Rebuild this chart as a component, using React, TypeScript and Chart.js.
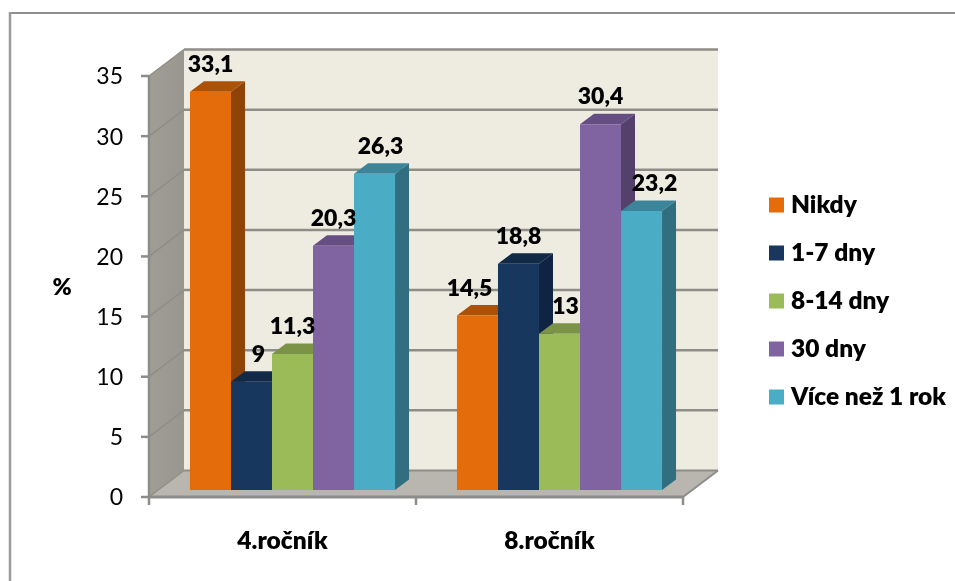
import { useEffect, useRef } from "react";
import { Chart, registerables } from "chart.js";

Chart.register(...registerables);

// Survey results, in percent
const categories = ["4.ročník", "8.ročník"];
const nikdy = [33.1, 14.5];
const dny1to7 = [9, 18.8];
const dny8to14 = [11.3, 13];
const dny30 = [20.3, 30.4];
const viceNez1Rok = [26.3, 23.2];

const seriesNames = ["Nikdy", "1-7 dny", "8-14 dny", "30 dny", "Více než 1 rok"];
const seriesValues = [nikdy, dny1to7, dny8to14, dny30, viceNez1Rok];

// Face colours per series: front, side, top
const frontColors = ["#E46C0A", "#17375E", "#9BBB59", "#8064A2", "#4BACC6"];
const sideColors = ["#8F4307", "#0F2442", "#65793A", "#53416C", "#316F80"];
const topColors = ["#AB5108", "#122A48", "#7A9346", "#654F82", "#3B8499"];

// Horizontal nudges of the value labels, by series and category
const labelNudgeX = [
  [0, -8],
  [7, 0],
  [0, 6],
  [0, 0],
  [6, 13],
];

const FONT = "Lato";
const LINE = "#8C8C8A";
const GRID = "#8E8D88";

// Offsets of the 3D box relative to the plane the bars stand in
const FRONT = { x: -10, y: 7 };
const BACK = { x: 25, y: -19.5 };
const BAR_DEPTH = { x: 14, y: -10.5 };

function poly(ctx: CanvasRenderingContext2D, pts: number[][], fill: any) {
  ctx.beginPath();
  pts.forEach(([x, y], i) => (i ? ctx.lineTo(x, y) : ctx.moveTo(x, y)));
  ctx.closePath();
  ctx.fillStyle = fill;
  ctx.fill();
}

function line(ctx: CanvasRenderingContext2D, x1: number, y1: number, x2: number, y2: number, color: string, width: number) {
  ctx.beginPath();
  ctx.moveTo(x1, y1);
  ctx.lineTo(x2, y2);
  ctx.strokeStyle = color;
  ctx.lineWidth = width;
  ctx.stroke();
}

// Reserves the band right of the plot for the legend and places it there
const legendPlacement = {
  id: "legendPlacement",
  beforeInit(chart: any) {
    const legend = chart.legend;
    const fit = legend.fit;
    legend.fit = function () {
      fit.call(this);
      this.width = 262;
    };
  },
  afterLayout(chart: any) {
    const l = chart.legend;
    l.left = 750.75;
    l.right = 955;
    l.top = 169.25;
    l.bottom = 460;
  },
};

// Walls, floor, ticks and the depth faces of the bars
const box3d = {
  id: "box3d",
  beforeDraw(chart: any) {
    const { ctx, chartArea: a, scales } = chart;
    const yScale = scales.y;
    const xScale = scales.x;
    ctx.save();

    const fl = a.left + FRONT.x;
    const fr = a.right + FRONT.x;
    const ft = a.top + FRONT.y;
    const fb = a.bottom + FRONT.y;
    const bl = a.left + BACK.x;
    const br = a.right + BACK.x;
    const bt = a.top + BACK.y;
    const bb = a.bottom + BACK.y;

    // chart frame
    line(ctx, 10, 13, 955, 13, "#8F8F8F", 2);
    line(ctx, 10, 12, 10, 581, "#9A9A9A", 2.5);

    // back wall
    poly(ctx, [[bl, bt], [br, bt], [br, bb], [bl, bb]], "#EEECE1");

    // left wall
    const wall = ctx.createLinearGradient(fl, 0, bl, 0);
    wall.addColorStop(0, "#9F9D94");
    wall.addColorStop(1, "#98968E");
    poly(ctx, [[fl, ft], [bl, bt], [bl, bb], [fl, fb]], wall);

    // floor
    poly(ctx, [[fl, fb], [bl, bb], [br, bb], [fr, fb]], "#B8B6AE");

    // gridlines across both walls, with their tick marks
    yScale.ticks.forEach((t: any) => {
      const p = yScale.getPixelForValue(t.value);
      line(ctx, bl, p + BACK.y, br, p + BACK.y, GRID, t.value === 0 ? 2 : 2.5);
      line(ctx, fl, p + FRONT.y, bl, p + BACK.y, GRID, 1.5);
      line(ctx, fl - 8, p + FRONT.y, fl, p + FRONT.y, LINE, 2.5);
    });

    // box edges
    line(ctx, fl, ft, fl, fb + 8, LINE, 2.5);
    line(ctx, fl, fb, fr, fb, LINE, 3);
    line(ctx, fr, fb, br, bb, LINE, 2);
    const mid = (xScale.getPixelForTick(0) + xScale.getPixelForTick(1)) / 2 + FRONT.x;
    line(ctx, mid, fb, mid, fb + 8, LINE, 2.5);
    line(ctx, fr, fb, fr, fb + 8, LINE, 2.5);
    ctx.restore();
  },
  beforeDatasetsDraw(chart: any) {
    const { ctx } = chart;
    ctx.save();
    // bar sides and tops; each front face is drawn afterwards by the library
    chart.data.datasets.forEach((_: any, i: number) => {
      chart.getDatasetMeta(i).data.forEach((bar: any) => {
        const { x, y, base, width } = bar.getProps(["x", "y", "base", "width"], true);
        const x0 = x - width / 2;
        const x1 = x + width / 2;
        const dx = BAR_DEPTH.x;
        const dy = BAR_DEPTH.y;
        poly(ctx, [[x1, y], [x1 + dx, y + dy], [x1 + dx, base + dy], [x1, base]], sideColors[i]);
        poly(ctx, [[x0, y], [x0 + dx, y + dy], [x1 + dx, y + dy], [x1, y]], topColors[i]);
      });
    });
    ctx.restore();
  },
  afterDatasetsDraw(chart: any) {
    const { ctx } = chart;
    ctx.save();
    ctx.textAlign = "center";
    ctx.textBaseline = "middle";
    ctx.fillStyle = "#000";
    ctx.font = `800 23px ${FONT}`;

    // value labels above the bars
    chart.data.datasets.forEach((ds: any, i: number) => {
      chart.getDatasetMeta(i).data.forEach((bar: any, j: number) => {
        const { x, y } = bar.getProps(["x", "y"], true);
        const text = String(ds.data[j]).replace(".", ",");
        ctx.fillText(text, x + labelNudgeX[i][j], y - 27.5);
      });
    });

    // unit label beside the value axis
    ctx.fillText("%", 62, 288);
    ctx.restore();
  },
};

export default function App() {
  const ref = useRef<HTMLCanvasElement | null>(null);

  useEffect(() => {
    document.body.style.margin = "0";
    document.body.style.background = "#fff";
    const chart = new Chart(ref.current as HTMLCanvasElement, {
      type: "bar",
      data: {
        labels: categories,
        datasets: seriesNames.map((label, i) => ({
          label,
          data: seriesValues[i],
          backgroundColor: frontColors[i],
          borderWidth: 0,
        })),
      },
      plugins: [legendPlacement, box3d],
      options: {
        responsive: false,
        animation: false,
        layout: { padding: { top: 69, left: 0, right: 0, bottom: 0 } },
        datasets: { bar: { categoryPercentage: 0.768, barPercentage: 1 } },
        scales: {
          x: {
            grid: { display: false, drawTicks: false },
            border: { display: false },
            ticks: {
              color: "#000",
              font: { family: FONT, size: 24.5, weight: "800" },
              padding: 36,
              labelOffset: FRONT.x,
              maxRotation: 0,
            },
            afterFit(s: any) {
              s.height = 91;
            },
          },
          y: {
            min: 0,
            max: 35,
            grid: { display: false, drawTicks: false },
            border: { display: false },
            ticks: {
              stepSize: 5,
              color: "#000",
              font: { family: FONT, size: 23 },
              padding: 36,
              labelOffset: FRONT.y + 1,
            },
            afterFit(s: any) {
              s.width = 159;
            },
          },
        },
        plugins: {
          tooltip: { enabled: false },
          legend: {
            position: "right",
            align: "start",
            labels: {
              color: "#000",
              font: { family: FONT, size: 24.5, weight: "800" },
              boxWidth: 4.5,
              boxHeight: 4.5,
              padding: 23.5,
              generateLabels(c: any) {
                const base = (Chart.defaults.plugins.legend.labels as any).generateLabels(c);
                return base.map((item: any) => ({ ...item, lineWidth: 10.5, strokeStyle: item.fillStyle }));
              },
            },
          },
        },
      },
    } as any);
    return () => chart.destroy();
  }, []);

  return <canvas ref={ref} width={955} height={581} style={{ display: "block" }} />;
}
